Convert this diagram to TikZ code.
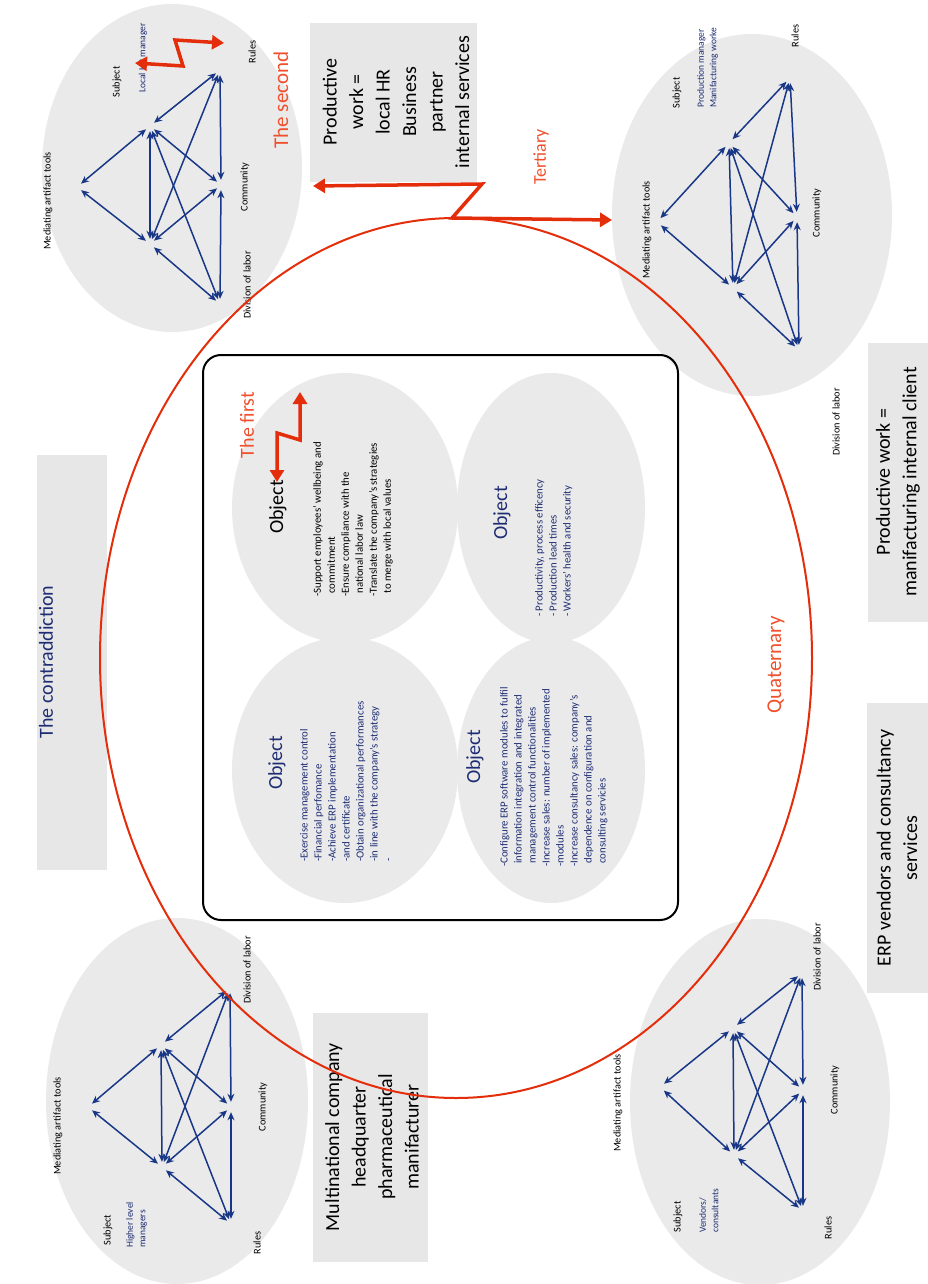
\documentclass[tikz,border=0pt]{standalone}
\usepackage{fontspec}
\setmainfont{Carlito}
\usetikzlibrary{arrows.meta}
\definecolor{navy}{RGB}{25,55,135}
\definecolor{txtnavy}{RGB}{30,45,115}
\definecolor{redA}{RGB}{228,45,10}
\definecolor{redT}{RGB}{240,80,45}
\definecolor{lgray}{RGB}{234,234,234}
\definecolor{bgray}{RGB}{231,231,231}
\newcommand\fsz[2]{\fontsize{#1}{#2}\selectfont}
\newcommand\actsys[7]{%
  \node[vtx] (#1T) at (#2) {};
  \node[vtx] (#1A) at (#3) {};
  \node[vtx] (#1B) at (#4) {};
  \node[vtx] (#1P) at (#5) {};
  \node[vtx] (#1Q) at (#6) {};
  \node[vtx] (#1W) at (#7) {};
  \foreach \a/\b in {T/A,T/B,A/B,A/P,A/Q,A/W,B/P,B/Q,B/W,P/Q,Q/W}
    \draw[triarrow] (#1\a) -- (#1\b);
}
\begin{document}
\begin{tikzpicture}[x=1pt,y=-1pt,
  vtx/.style={circle,minimum size=10pt,inner sep=0pt},
  triarrow/.style={draw=navy,line width=1.5pt,{Stealth[length=8pt,width=7pt]}-{Stealth[length=8pt,width=7pt]}},
  redarrow/.style={draw=redA,line width=3.5pt,{Triangle[length=12pt,width=14pt]}-{Triangle[length=12pt,width=14pt]}},
  lbl/.style={rotate=90,font=\fsz{10.3}{12},inner sep=0pt,text=black},
  sublbl/.style={rotate=90,font=\fsz{9.5}{12.5},inner sep=0pt,text=txtnavy,align=left,anchor=north west},
  redtxt/.style={rotate=90,text=redT,inner sep=0pt},
  objtitle/.style={rotate=90,font=\fsz{20}{24},inner sep=0pt},
  bullets/.style={rotate=90,font=\fsz{10.8}{14},inner sep=0pt,align=left,anchor=north west},
  boxtxt/.style={rotate=90,font=\fsz{20}{26.5},inner sep=0pt,align=center,text=black}]
\useasboundingbox (0,0) rectangle (928,1284);
\fill[white] (0,0) rectangle (928,1284);

% activity system ellipses
\fill[lgray] (172,168) ellipse [x radius=130pt, y radius=164pt];
\fill[lgray] (752,215) ellipse [x radius=140pt, y radius=181pt];
\fill[lgray] (177,1101) ellipse [x radius=131pt, y radius=183pt];
\fill[lgray] (760,1102) ellipse [x radius=130pt, y radius=183pt];

% grey boxes
\fill[bgray] (37,455) rectangle (107,870);
\fill[bgray] (310,23) rectangle (477,182);
\fill[bgray] (313,1013) rectangle (428,1262);
\fill[bgray] (868,343) rectangle (928,622);
\fill[bgray] (867,703) rectangle (928,993);

% central frame with object ellipses
\draw[line width=2pt,rounded corners=18pt] (203,355) rectangle (678,920);
\fill[lgray] (345,508) ellipse [x radius=113pt, y radius=135pt];
\fill[lgray] (551,508) ellipse [x radius=94pt, y radius=135pt];
\fill[lgray] (345,770) ellipse [x radius=113pt, y radius=133pt];
\fill[lgray] (551,770) ellipse [x radius=94pt, y radius=133pt];

% triangles
\actsys{tl}{77,187}{150,126}{150,244}{220,70}{221,185}{220,304}
\actsys{tr}{657,222}{729,143}{733,288}{790,78}{797,217}{799,350}
\actsys{bl}{88,1107}{161,1045}{162,1167}{230,988}{231,1107}{231,1224}
\actsys{br}{660,1087}{733,1028}{734,1155}{802,973}{803,1090}{803,1211}

% labels top-left
\node[lbl] (tlMed) at (48,201) {Mediating artifact tools};
\node[lbl] (tlSub) at (117,82) {Subject};
\node[sublbl,anchor=center] (tlSubT) at (143,58) {Local HR manager};
\node[lbl] (tlRul) at (252,52) {Rules};
\node[lbl] (tlCom) at (245,187) {Community};
\node[lbl] (tlDiv) at (247,285) {Division of labor};

% labels top-right
\node[lbl] (trMed) at (647,230) {Mediating artifact tools};
\node[lbl] (trSub) at (677,93) {Subject};
\node[sublbl] (trSubT) at (697,108) {Production manager\\Manifacturing worke};
\node[lbl] (trRul) at (795,36) {Rules};
\node[lbl] (trCom) at (817,213) {Community};
\node[lbl] (trDiv) at (836,422) {Division of labor};

% labels bottom-left
\node[lbl] (blMed) at (58,1126) {Mediating artifact tools};
\node[lbl] (blSub) at (108,1230) {Subject};
\node[sublbl] (blSubT) at (126,1248) {Higher level\\managers};
\node[lbl] (blRul) at (257,1243) {Rules};
\node[lbl] (blCom) at (263,1107) {Community};
\node[lbl] (blDiv) at (247,970) {Division of labor};

% labels bottom-right
\node[lbl] (brMed) at (618,1103) {Mediating artifact tools};
\node[lbl] (brSub) at (678,1217) {Subject};
\node[sublbl] (brSubT) at (699,1233) {Vendors/\\consultants};
\node[lbl] (brRul) at (828,1228) {Rules};
\node[lbl] (brCom) at (835,1090) {Community};
\node[lbl] (brDiv) at (817,957) {Division of labor};

% box texts
\node[boxtxt,text=txtnavy] (contr) at (46,662) {The contraddiction};
\node[boxtxt] (hrbox) at (396,102) {Productive\\work =\\local HR\\Business\\partner\\internal services};
\node[boxtxt] (mnbox) at (372,1137) {Multinational company\\headquarter\\pharmaceutical\\manifacturer};
\node[boxtxt] (clbox) at (898,482) {Productive work =\\manifacturing internal client};
\node[boxtxt] (erpbox) at (897,848) {ERP vendors and consultancy\\services};

% object titles and bullets
\node[objtitle,text=black] (ob1) at (278,507) {Object};
\node[bullets,text=black] (ob1t) at (313,597) {-Support employees’ wellbeing and\\\hphantom{-}commitment\\-Ensure compliance with the\\\hphantom{-}national labor law\\-Translate the company’s strategies\\\hphantom{-}to merge with local values};
\node[objtitle,text=txtnavy] (ob2) at (502,513) {Object};
\node[bullets,text=txtnavy] (ob2t) at (535,617) {- Productivity, process efficency\\- Production lead times\\- Workers’ health and security};
\node[objtitle,text=txtnavy] (ob3) at (277,763) {Object};
\node[bullets,text=txtnavy] (ob3t) at (300,862) {-Exercise management control\\-Financial perfomance\\-Achieve ERP implementation\\-and certificate\\-Obtain organizational performances\\-in line with the company’s strategy\\-};
\node[objtitle,text=txtnavy] (ob4) at (475,757) {Object};
\node[bullets,text=txtnavy] (ob4t) at (500,867) {-Configure ERP software modules to fulfil\\\hphantom{-}information integration and integrated\\\hphantom{-}management control functionalities\\-Increase sales: number of implemented\\-modules\\-Increase consultancy sales: company’s\\\hphantom{-}dependence on configuration and\\\hphantom{-}consulting servicies};

% red texts
\node[redtxt,font=\fsz{21}{24}] (second) at (281,100) {The second};
\node[redtxt,font=\fsz{20}{24}] (first) at (247,425) {The first};
\node[redtxt,font=\fsz{18}{22}] (tert) at (541,157) {Tertiary};
\node[redtxt,font=\fsz{21}{24}] (quat) at (776,665) {Quaternary};

% red contradiction ellipse
\draw[redA,line width=2pt] (456,658) ellipse [x radius=356pt, y radius=440pt];

% red zigzag arrows
\coordinate (z1a) at (135,63);
\coordinate (z1b) at (183,66);
\coordinate (z1c) at (175,40);
\coordinate (z1d) at (224,43);
\draw[redarrow] (z1a) -- (z1b) -- (z1c) -- (z1d);
\coordinate (z2a) at (313,186);
\coordinate (z2b) at (482,184);
\coordinate (z2c) at (452,218);
\coordinate (z2d) at (612,220);
\draw[redarrow] (z2a) -- (z2b) -- (z2c) -- (z2d);
\coordinate (z3a) at (277,482);
\coordinate (z3b) at (277,433);
\coordinate (z3c) at (300,440);
\coordinate (z3d) at (300,392);
\draw[redarrow] (z3a) -- (z3b) -- (z3c) -- (z3d);
\end{tikzpicture}
\end{document}
